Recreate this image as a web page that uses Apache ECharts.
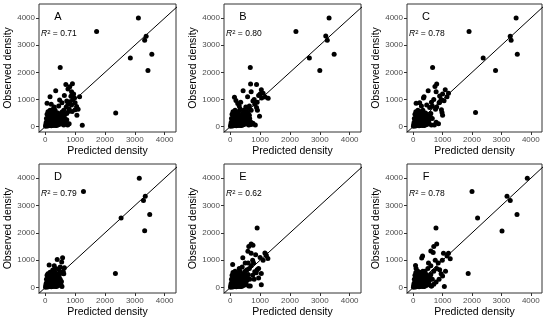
<!DOCTYPE html>
<html><head><meta charset="utf-8">
<script src="https://cdn.jsdelivr.net/npm/echarts@6/dist/echarts.min.js"></script>
<style>html,body{margin:0;padding:0;background:#fff}#c{width:550px;height:321px}</style>
</head><body><div id="c"></div>
<script>
const panelLetters = ['A','B','C','D','E','F'];
const r2Values = ['0.71','0.80','0.78','0.79','0.62','0.78'];
const tickValues = [0, 1000, 2000, 3000, 4000];
const xTitle = 'Predicted density';
const yTitle = 'Observed density';
const refLineEnds = [[-1000, -1000], [6000, 6000]];

// [predicted, observed]
const pointsA = [
  [3120,4000],[1720,3510],[3380,3330],[3330,3180],[3570,2670],[2850,2530],[3440,2070],[500,2180],[2360,500],[1240,50],
  [690,1550],[910,1580],[820,1470],[760,1390],[880,1280],[950,1200],[350,1320],[1150,1100],[160,1100],[60,860],[480,980],
  [920,1000],[860,1120],[1000,880],[830,920],[1050,740],[1060,420],[720,940],[700,720],[800,650],[620,600],[760,820],
  [1100,640],[300,720],[200,820],[450,760],[260,640],[640,1150],[560,880],[980,1050],[780,560],[900,560],[720,480],[1000,620],[880,800],
  [10,10],[30,150],[40,300],[50,80],[60,200],[60,450],[70,120],[80,20],[90,550],[100,350],[110,260],[120,60],[130,480],
  [150,250],[170,180],[180,100],[200,30],[200,520],[210,420],[230,120],[250,180],[260,40],[270,300],[280,560],[300,420],
  [320,250],[340,300],[350,120],[380,40],[400,330],[420,500],[430,70],[460,440],[480,90],[500,380],[530,120],[550,260],
  [600,480],[620,60],[650,300],[680,120],[720,250],[750,60],[800,100],[160,600],[330,600],[560,540],
  [20,80],[90,180],[140,120],[190,350],[240,260],[290,150],[360,210],[440,300],[520,200],[580,360],[640,420],[700,180],
  [150,40],[230,480],[390,420],[470,160],[610,250],[120,380],[270,80],[330,40],[410,240],[560,100],[30,40],[80,270]
];
const pointsB = [
  [3310,4000],[2200,3510],[3200,3340],[3250,3180],[3480,2670],[2650,2530],[3000,2070],[670,2180],
  [680,1570],[880,1550],[430,1320],[1040,1360],[1100,1230],[1270,1040],[1170,1090],[1000,1200],[140,1080],[190,960],
  [900,900],[910,600],[880,700],[760,940],[820,820],[640,760],[600,680],[700,600],[520,720],[300,760],[250,850],[450,600],
  [980,380],[840,60],[760,120],[1050,1050],[950,1150],[800,1000],[700,1280],[580,1100],[350,900],
  [10,10],[30,150],[40,300],[50,80],[60,200],[60,450],[70,120],[80,20],[90,550],[100,350],[110,260],[120,60],[130,480],
  [150,250],[170,180],[180,100],[200,30],[200,520],[210,420],[230,120],[250,180],[260,40],[270,300],[280,560],[300,420],
  [320,250],[340,300],[350,120],[380,40],[400,330],[420,500],[430,70],[460,440],[480,90],[500,380],[530,120],[550,260],
  [600,480],[620,60],[650,300],[680,180],[700,80],[160,600],[330,650],[560,540],
  [20,80],[90,180],[140,120],[190,350],[240,260],[290,150],[360,210],[440,300],[520,200],[580,360],[640,420],
  [150,40],[230,480],[390,420],[470,160],[610,250],[120,380],[270,80],[330,40],[410,240],[560,100],[30,40],[80,270]
];
const pointsC = [
  [3500,4000],[1900,3510],[3300,3330],[3330,3180],[3540,2670],[2380,2530],[2800,2070],[660,2180],[2120,520],
  [800,1570],[740,1480],[510,1320],[1090,1360],[1200,1230],[1000,1200],[1150,1100],[100,860],[370,1100],[350,1050],
  [950,1000],[900,1130],[700,1000],[780,1280],[620,900],[880,880],[960,620],[980,520],[1000,420],[800,720],[760,640],
  [650,760],[560,700],[460,800],[280,760],[220,880],[780,160],[860,100],[720,60],[900,900],[1050,950],
  [10,10],[30,150],[40,300],[50,80],[60,200],[60,450],[70,120],[80,20],[90,550],[100,350],[110,260],[120,60],[130,480],
  [150,250],[170,180],[180,100],[200,30],[200,520],[210,420],[230,120],[250,180],[260,40],[270,300],[280,560],[300,420],
  [320,250],[340,300],[350,120],[380,40],[400,330],[420,500],[430,70],[460,440],[480,90],[500,380],[530,120],[550,260],
  [600,480],[620,60],[650,300],[160,600],[330,600],
  [20,80],[90,180],[140,120],[190,350],[240,260],[290,150],[360,210],[440,300],[520,200],[580,360],
  [150,40],[230,480],[390,420],[470,160],[120,380],[270,80],[330,40],[410,240],[30,40],[80,270]
];
const pointsD = [
  [3150,4000],[1280,3510],[3350,3340],[3290,3180],[3500,2670],[2540,2540],[3330,2080],[2350,510],
  [580,1090],[400,1030],[550,930],[130,820],[640,720],[600,600],[500,750],[450,680],[350,700],[250,640],[300,800],
  [560,520],[620,500],[480,560],
  [10,10],[30,150],[40,300],[50,80],[60,200],[60,450],[70,120],[80,20],[90,500],[100,350],[110,260],[120,60],[130,420],
  [150,250],[170,180],[180,100],[200,30],[200,480],[210,380],[230,120],[250,180],[260,40],[270,300],[280,520],[300,400],
  [320,250],[340,300],[350,120],[380,40],[400,330],[420,480],[430,70],[460,400],[480,90],[500,300],[520,120],[540,220],
  [560,40],[160,560],[330,560],
  [20,80],[90,180],[140,120],[190,350],[240,260],[290,150],[360,210],[440,300],[520,200],
  [150,40],[230,480],[390,420],[470,160],[120,380],[270,80],[330,40],[410,240],[30,40],[80,270]
];
const pointsE = [
  [900,2180],[700,1590],[760,1550],[620,1500],[590,1330],[1160,1260],[1210,1160],[1260,1060],[1190,1220],[420,1090],
  [80,840],[1040,100],[670,60],[870,540],[1040,510],[780,900],[700,800],[640,700],[560,650],[500,600],[900,650],
  [820,580],[950,700],[400,750],[300,700],[750,1000],[600,900],[1000,1100],[850,1200],[700,1250],[500,900],[1100,1000],
  [950,350],[750,450],[800,300],
  [10,10],[30,150],[40,300],[50,80],[60,200],[60,450],[70,120],[80,20],[90,550],[100,350],[110,260],[120,60],[130,480],
  [150,250],[170,180],[180,100],[200,30],[200,520],[210,420],[230,120],[250,180],[260,40],[270,300],[280,560],[300,420],
  [320,250],[340,300],[350,120],[380,40],[400,330],[420,500],[430,70],[460,440],[480,90],[500,380],[530,120],[550,260],
  [600,480],[620,60],[650,300],[160,600],[330,600],
  [20,80],[90,180],[140,120],[190,350],[240,260],[290,150],[360,210],[440,300],[520,200],[580,360],
  [150,40],[230,480],[390,420],[470,160],[120,380],[270,80],[330,40],[410,240],[30,40],[80,270]
];
const pointsF = [
  [3880,4000],[2000,3510],[3190,3340],[3300,3180],[3530,2670],[2190,2540],[3020,2070],[775,2180],[1870,510],[1060,40],
  [800,1590],[700,1500],[600,1340],[1030,1250],[1260,1050],[1150,1150],[1200,1250],[990,1000],[290,1080],[320,1150],
  [80,810],[100,700],[620,60],[700,120],[900,650],[800,700],[700,600],[600,800],[500,700],[400,600],[1000,420],[1100,600],
  [850,900],[750,1000],[680,1280],[520,900],[950,500],[880,300],[780,200],
  [10,10],[30,150],[40,300],[50,80],[60,200],[60,450],[70,120],[80,20],[90,550],[100,350],[110,260],[120,60],[130,480],
  [150,250],[170,180],[180,100],[200,30],[200,520],[210,420],[230,120],[250,180],[260,40],[270,300],[280,560],[300,420],
  [320,250],[340,300],[350,120],[380,40],[400,330],[420,500],[430,70],[460,440],[480,90],[500,380],[530,120],[550,260],
  [600,480],[620,60],[650,300],[160,600],[330,600],
  [20,80],[90,180],[140,120],[190,350],[240,260],[290,150],[360,210],[440,300],[520,200],[580,360],
  [150,40],[230,480],[390,420],[470,160],[120,380],[270,80],[330,40],[410,240],[30,40],[80,270]
];
const panelPoints = [pointsA, pointsB, pointsC, pointsD, pointsE, pointsF];

const gridBoxes = [
  {left: 39, top: 4, width: 137, height: 128},
  {left: 224, top: 4, width: 137, height: 128},
  {left: 407, top: 4, width: 135, height: 128},
  {left: 39, top: 164, width: 137, height: 129},
  {left: 224, top: 164, width: 137, height: 129},
  {left: 407, top: 164, width: 135, height: 129}
];
const FONT = '"Liberation Sans", Arial, sans-serif';
const plain = v => String(v);

const grids = [], xAxes = [], yAxes = [], series = [], graphics = [];
gridBoxes.forEach((g, i) => {
  grids.push(Object.assign({show: true, borderColor: '#333', borderWidth: 1, backgroundColor: '#fff', containLabel: false, outerBoundsMode: 'none'}, g));
  xAxes.push({
    type: 'value', gridIndex: i, min: -210, max: 4380,
    axisLine: {show: false, onZero: false},
    axisTick: {show: true, length: 3, customValues: tickValues, lineStyle: {color: '#333', width: 1}},
    axisLabel: {customValues: tickValues, formatter: plain, fontSize: 8, color: '#4d4d4d', margin: 4, fontFamily: FONT},
    splitLine: {show: false},
    name: xTitle, nameLocation: 'middle', nameGap: 14,
    nameTextStyle: {fontSize: 10.5, color: '#000', fontFamily: FONT}
  });
  yAxes.push({
    type: 'value', gridIndex: i, min: -200, max: 4520,
    axisLine: {show: false, onZero: false},
    axisTick: {show: true, length: 3, customValues: tickValues, lineStyle: {color: '#333', width: 1}},
    axisLabel: {customValues: tickValues, formatter: plain, fontSize: 8, color: '#4d4d4d', margin: 4, fontFamily: FONT},
    splitLine: {show: false},
    name: yTitle, nameLocation: 'middle', nameGap: 25,
    nameTextStyle: {fontSize: 10.5, color: '#000', fontFamily: FONT}
  });
  series.push({
    type: 'line', xAxisIndex: i, yAxisIndex: i, data: refLineEnds, symbol: 'none', clip: true,
    lineStyle: {color: '#000', width: 1}, silent: true, z: 2
  });
  series.push({
    type: 'scatter', xAxisIndex: i, yAxisIndex: i, data: panelPoints[i], symbolSize: 5,
    itemStyle: {color: '#000', opacity: 1}, z: 3
  });
  graphics.push({
    type: 'text', x: g.left + 19, y: g.top + 13,
    style: {text: panelLetters[i], fontSize: 11, fontFamily: FONT, fill: '#000', align: 'center', verticalAlign: 'middle', textAlign: 'center', textVerticalAlign: 'middle'}
  });
  graphics.push({
    type: 'text', x: g.left + 2, y: g.top + 30,
    style: {
      text: '{i|R}{s|2}{n| = ' + r2Values[i] + '}',
      align: 'left', verticalAlign: 'middle', textAlign: 'left', textVerticalAlign: 'middle',
      rich: {
        i: {fontSize: 8.5, fontStyle: 'italic', fontFamily: FONT, fill: '#000', color: '#000'},
        s: {fontSize: 6, fontFamily: FONT, fill: '#000', color: '#000', verticalAlign: 'top', padding: [0, 0, 4, 0]},
        n: {fontSize: 8.5, fontFamily: FONT, fill: '#000', color: '#000'}
      }
    }
  });
});

const chart = echarts.init(document.getElementById('c'), null, {renderer: 'canvas'});
chart.setOption({
  animation: false,
  backgroundColor: '#fff',
  grid: grids, xAxis: xAxes, yAxis: yAxes, series: series, graphic: graphics
});
</script></body></html>
